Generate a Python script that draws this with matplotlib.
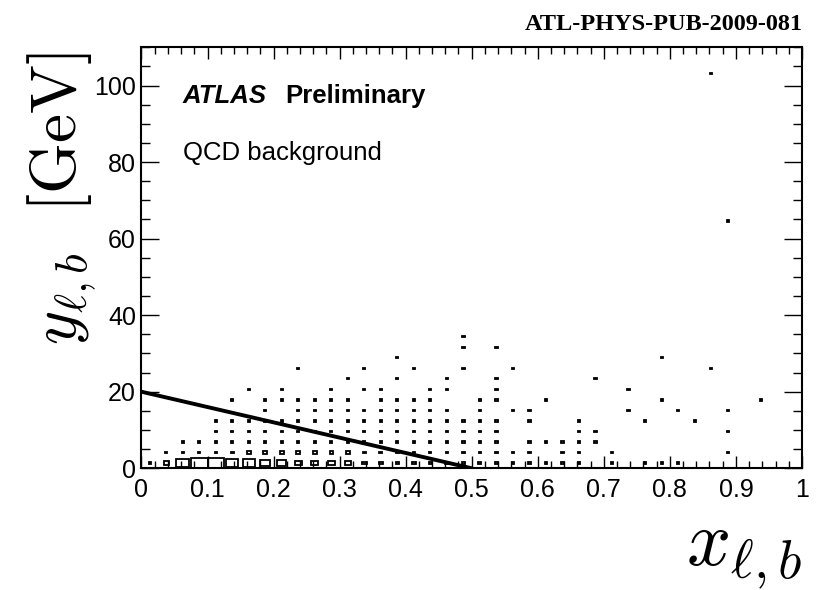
import numpy as np
import matplotlib
matplotlib.use("Agg")
import matplotlib.pyplot as plt
from matplotlib.ticker import MultipleLocator, FuncFormatter

plt.rcParams['font.family'] = ['Liberation Sans', 'DejaVu Sans']
plt.rcParams['mathtext.fontset'] = 'cm'

# 40 x 40 binning of the 2D histogram (x_lb, y_lb)
x_edges = np.linspace(0, 1, 41)
y_edges = np.linspace(0, 110, 41)

# lowest two y rows: x-bin index and entries
row0_bins = list(range(0, 27)) + [28, 30, 31, 32]
row0_counts = [1, 6, 38, 60, 56, 32, 32, 22, 19, 12,
               10, 10, 7, 4, 3, 3, 3, 3, 2, 2,
               2, 2, 1, 1, 1, 1, 1, 1, 1, 1, 1]
row1_bins = list(range(1, 24)) + [25, 26, 28, 35]
row1_counts = [1, 1, 1, 1, 2, 3, 3, 3, 3, 3,
               3, 3, 2, 2, 2, 1, 1, 1, 1, 1,
               1, 1, 1, 1, 1, 1, 1]

# higher rows: x-bin indices with a single entry
row2 = list(range(2, 22)) + [23, 24, 25, 26, 27]
row3 = list(range(4, 22)) + [26, 27, 35]
row4 = list(range(4, 22)) + [23, 26, 30, 33]
row5 = [7, 9, 10, 11, 12, 13, 14, 15, 16, 17, 18, 20, 22, 23, 29, 32, 35]
row6 = [5, 7, 8, 9, 10, 11, 12, 14, 15, 16, 17, 20, 21, 24, 31, 37]
row7 = [6, 8, 11, 13, 14, 17, 18, 21, 29]
row8 = [12, 15, 18, 21, 27]
row9 = [9, 13, 16, 19, 22, 34]
row10 = [15, 31]
row11 = [19, 21]
row12 = [19]
row23 = [35]
row37 = [34]

# cut line
cut_x = [0, 0.5]
cut_y = [20, 0]

# collect bins
xi, yj, cnt = [], [], []
xi += row0_bins; yj += [0] * len(row0_bins); cnt += row0_counts
xi += row1_bins; yj += [1] * len(row1_bins); cnt += row1_counts
for j, row in [(2, row2), (3, row3), (4, row4), (5, row5), (6, row6), (7, row7),
               (8, row8), (9, row9), (10, row10), (11, row11), (12, row12),
               (23, row23), (37, row37)]:
    xi += row; yj += [j] * len(row); cnt += [1] * len(row)
xi = np.array(xi); yj = np.array(yj); cnt = np.array(cnt, dtype=float)

xc = 0.5 * (x_edges[xi] + x_edges[xi + 1])
yc = 0.5 * (y_edges[yj] + y_edges[yj + 1])
dx = x_edges[1] - x_edges[0]
dy = y_edges[1] - y_edges[0]
r = np.sqrt(cnt / cnt.max())  # box area ~ content

fig = plt.figure(figsize=(8.23, 5.90), dpi=100)
ax = fig.add_axes([0.1719, 0.2063, 0.8025, 0.7136])

ax.bar(xc, dy * r, width=dx * r, bottom=yc - dy * r / 2,
       facecolor='none', edgecolor='black', linewidth=1.3)
ax.plot(cut_x, cut_y, color='black', lw=2.8, solid_capstyle='butt')

ax.set_xlim(0, 1)
ax.set_ylim(0, 110)
ax.xaxis.set_major_locator(MultipleLocator(0.1))
ax.xaxis.set_minor_locator(MultipleLocator(0.02))
ax.yaxis.set_major_locator(MultipleLocator(20))
ax.yaxis.set_minor_locator(MultipleLocator(5))
ax.xaxis.set_major_formatter(FuncFormatter(lambda v, p: "%g" % round(v, 2)))
ax.yaxis.set_major_formatter(FuncFormatter(lambda v, p: "%g" % v))

ax.tick_params(axis='both', which='both', direction='in', top=True, right=True,
               width=1, labelsize=18)
ax.tick_params(axis='x', which='major', length=8.6, pad=7)
ax.tick_params(axis='x', which='minor', length=4.7)
ax.tick_params(axis='y', which='major', length=13, pad=4)
ax.tick_params(axis='y', which='minor', length=6.5)
for s in ax.spines.values():
    s.set_linewidth(1.5)

ax.set_ylabel(r'$y_{\ell,b}\ \ [\mathrm{GeV}]$', fontsize=47, loc='top')
ax.yaxis.set_label_coords(-0.066, 0.99)
ax.set_xlabel(r'$x_{\ell,b}$', fontsize=56, loc='right')
ax.xaxis.set_label_coords(1.0, -0.118)

ax.text(0.0628, 0.867, 'ATLAS', transform=ax.transAxes, fontsize=18.5,
        fontweight='bold', fontstyle='italic')
ax.text(0.2173, 0.867, 'Preliminary', transform=ax.transAxes, fontsize=18.5,
        fontweight='bold')
ax.text(0.0628, 0.732, 'QCD background', transform=ax.transAxes, fontsize=18.5)

fig.text(803 / 823, 1 - 30 / 590, 'ATL-PHYS-PUB-2009-081', ha='right', va='baseline',
         fontsize=17.5, fontweight='bold', family='Liberation Serif')

fig.savefig('out.png', dpi=100)
